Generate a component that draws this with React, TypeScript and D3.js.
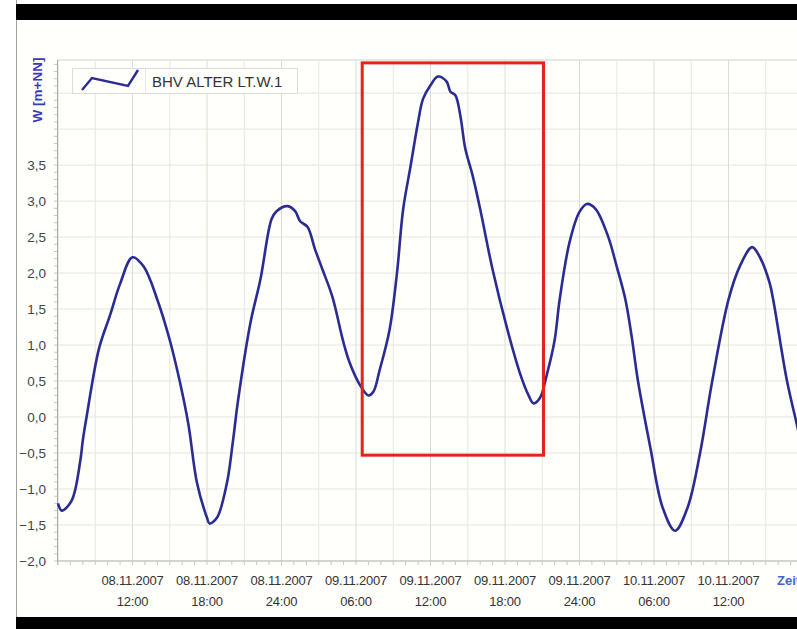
import React from 'react';
import * as d3 from 'd3';

// Pegel BHV ALTER LT.W.1, 08.11.2007 06:00 bis 10.11.2007 ~18:00
const startTime = new Date(2007, 10, 8, 6, 0);

// hours after startTime
const hoursFromStart = [
  0.0, 0.3, 1.1, 1.8, 2.0, 2.3, 3.3, 4.2, 5.0, 6.0, 6.9, 8.0, 9.0, 9.8, 10.5,
  11.2, 12.0, 12.2, 12.8, 13.6, 14.1, 14.5, 15.5, 16.3, 17.2, 17.6, 18.5,
  19.1, 19.5, 20.1, 20.7, 21.3, 22.1, 23.0, 23.5, 24.3, 25.0, 25.4, 25.9,
  26.7, 27.3, 27.8, 28.4, 29.0, 29.4, 30.0, 30.6, 31.3, 31.6, 32.0, 32.4,
  32.8, 33.4, 34.0, 35.0, 36.2, 37.2, 37.9, 38.3, 38.8, 39.4, 40.0, 40.4,
  41.2, 42.0, 42.6, 43.3, 44.3, 45.0, 45.7, 46.2, 46.7, 47.7, 48.7, 49.7,
  50.7, 51.7, 52.7, 54.0, 54.9, 55.9, 56.5, 57.3, 57.6, 58.7, 59.5, 60.0
];

// W [m+NN]
const waterLevel = [
  -1.2, -1.3, -1.16, -0.6, -0.32, 0.0, 0.95, 1.42, 1.85, 2.22, 2.09, 1.63, 1.07, 0.5, -0.1,
  -0.92, -1.4, -1.48, -1.4, -0.92, -0.32, 0.23, 1.31, 1.91, 2.75, 2.86, 2.93,
  2.86, 2.72, 2.64, 2.33, 2.05, 1.67, 1.03, 0.75, 0.45, 0.3, 0.35, 0.65,
  1.21, 2.0, 2.89, 3.49, 4.1, 4.42, 4.61, 4.73, 4.66, 4.52, 4.47, 4.19,
  3.73, 3.35, 2.89, 2.05, 1.21, 0.61, 0.3, 0.19, 0.26, 0.61, 1.07, 1.63,
  2.43, 2.85, 2.96, 2.89, 2.51, 2.09, 1.63, 1.12, 0.51, -0.42, -1.26, -1.58,
  -1.26, -0.51, 0.51, 1.63, 2.09, 2.36, 2.23, 1.87, 1.63, 0.51, -0.1, -0.5
];

const yTickValues = [-2, -1.5, -1, -0.5, 0, 0.5, 1, 1.5, 2, 2.5, 3, 3.5];
const yGridValues = [-2, -1.5, -1, -0.5, 0, 0.5, 1, 1.5, 2, 2.5, 3, 3.5, 4, 4.5];

const seriesName = 'BHV ALTER LT.W.1';
const yTitle = 'W [m+NN]';
const xTitle = 'Zeit';

// red highlight box, in data units (hours, m)
const highlightHours = [24.5, 39.1];
const highlightLevels = [-0.53, 4.92];

const W = 797;
const H = 629;
const font = '"Liberation Sans", Arial, sans-serif';

const at = (h: number) => new Date(startTime.getTime() + h * 3600 * 1000);

export default function App() {
  const x = d3.scaleTime().domain([startTime, at(60)]).range([58, 58 + 74.5 * 10]);
  const y = d3.scaleLinear().domain([-2, 4.96]).range([561, 60]);

  const points = hoursFromStart.map((h, i) => ({ t: at(h), v: waterLevel[i] }));
  const line = d3.line<{ t: Date; v: number }>()
    .x(d => x(d.t))
    .y(d => y(d.v))
    .curve(d3.curveCatmullRom.alpha(0.5));

  const grid3h = d3.timeHour.every(3)!.range(startTime, at(61));
  const ticks6h = d3.timeHour.every(6)!.range(at(1), at(55));
  const minorX = d3.timeHour.every(1)!.range(startTime, at(61));
  const minorY = d3.range(-2, 4.95, 0.1);

  const fmtDate = d3.timeFormat('%d.%m.%Y');
  const dateLabel = (d: Date) =>
    d.getHours() === 0 ? fmtDate(new Date(d.getTime() - 3600 * 1000)) : fmtDate(d);
  const timeLabel = (d: Date) =>
    d.getHours() === 0 ? '24:00' : d3.timeFormat('%H:%M')(d);

  const x0 = x.range()[0];
  const yTop = y.range()[1];
  const yBottom = y.range()[0];

  return (
    <svg width={W} height={H} style={{ position: 'absolute', left: 0, top: 0 }} fontFamily={font}>
      <rect x={0} y={0} width={W} height={H} fill="#ffffff" />
      <rect x={16} y={20} width={W - 16} height={597} fill="#fffffb" />
      <line x1={16.5} y1={0} x2={16.5} y2={H} stroke="#a0a0a0" />

      {/* grid */}
      {yGridValues.map(v => (
        <line key={'gy' + v} x1={x0} x2={W} y1={y(v)} y2={y(v)} stroke="#e6e6dc" />
      ))}
      <line x1={x0} x2={W} y1={yTop} y2={yTop} stroke="#d2d2cc" />
      {grid3h.map(d => (
        <line key={'gx' + d.getTime()} x1={x(d)} x2={x(d)} y1={yTop} y2={yBottom}
          stroke={d.getHours() % 6 === 0 ? '#dedcd2' : '#e8e8de'} />
      ))}

      {/* axes */}
      <line x1={x0 - 0.5} x2={x0 - 0.5} y1={yTop} y2={yBottom + 4} stroke="#a8a8a8" />
      <line x1={x0} x2={W} y1={yBottom} y2={yBottom} stroke="#b4b4b4" />
      {minorY.map(v => (
        <line key={'my' + v} x1={x0 - 4} x2={x0 - 1} y1={y(v)} y2={y(v)} stroke="#c8c8c8" />
      ))}
      {minorX.map(d => (
        <line key={'mx' + d.getTime()} x1={x(d)} x2={x(d)} y1={yBottom} y2={yBottom + 4} stroke="#c8c8c8" />
      ))}

      {yTickValues.map(v => (
        <text key={'ty' + v} x={46} y={y(v) + 4.5} textAnchor="end" fontSize={13.5} fill="#444">
          {d3.format('.1f')(v).replace('.', ',')}
        </text>
      ))}
      {ticks6h.map(d => (
        <g key={'tx' + d.getTime()} transform={`translate(${x(d)},0)`} fill="#333" fontSize={13}>
          <text x={0} y={585} textAnchor="middle" letterSpacing={-0.2}>{dateLabel(d)}</text>
          <text x={0} y={606} textAnchor="middle" letterSpacing={-0.2}>{timeLabel(d)}</text>
        </g>
      ))}
      <text x={777} y={585} fontSize={13} fontWeight="bold" fill="#4466cc">{xTitle}</text>
      <text transform="translate(42,90) rotate(-90)" textAnchor="middle" fontSize={13.5} fontWeight="bold" fill="#3a3ab8">
        {yTitle}
      </text>

      {/* legend */}
      <rect x={72.5} y={68.5} width={225} height={25} fill="#fffffb" stroke="#dcdcdc" />
      <line x1={145.5} x2={145.5} y1={69} y2={93} stroke="#e4e4e4" />
      <polyline points="82,90 92,78 128,86 138,70" fill="none" stroke="#2b2d92" strokeWidth={2.4} />
      <text x={152} y={87} fontSize={15} fill="#333">{seriesName}</text>

      {/* series */}
      <path d={line(points) || ''} fill="none" stroke="#2a2c94" strokeWidth={2.6} strokeLinejoin="round" />

      {/* highlight */}
      <rect
        x={x(at(highlightHours[0]))}
        y={y(highlightLevels[1])}
        width={x(at(highlightHours[1])) - x(at(highlightHours[0]))}
        height={y(highlightLevels[0]) - y(highlightLevels[1])}
        fill="none" stroke="#e3231c" strokeWidth={3} />

      {/* black bars */}
      <rect x={16} y={4} width={W - 16} height={16} fill="#000" />
      <rect x={16} y={617} width={W - 16} height={12} fill="#000" />
    </svg>
  );
}
